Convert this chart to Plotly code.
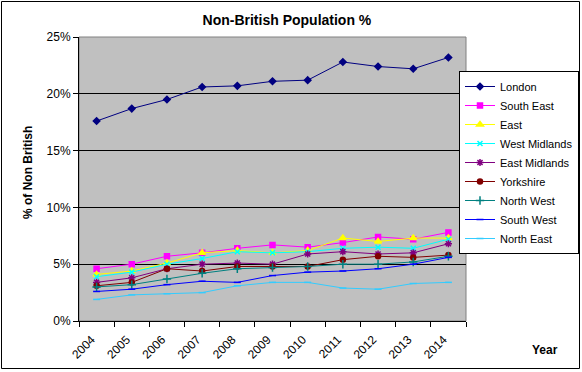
import plotly.graph_objects as go

years = ["2004", "2005", "2006", "2007", "2008", "2009", "2010", "2011", "2012", "2013", "2014"]

london = [17.6, 18.7, 19.5, 20.6, 20.7, 21.1, 21.2, 22.8, 22.4, 22.2, 23.2]
south_east = [4.6, 5.0, 5.7, 6.0, 6.4, 6.7, 6.5, 6.9, 7.4, 7.2, 7.8]
east = [4.1, 4.4, 5.1, 6.0, 6.2, 6.0, 6.2, 7.3, 7.0, 7.3, 7.3]
west_midlands = [3.9, 4.3, 5.0, 5.5, 6.1, 6.0, 6.1, 6.4, 6.5, 6.4, 7.2]
east_midlands = [3.4, 3.8, 4.6, 5.0, 5.1, 5.0, 5.9, 6.1, 5.9, 6.0, 6.8]
yorkshire = [3.1, 3.4, 4.6, 4.4, 4.8, 4.8, 4.8, 5.4, 5.7, 5.6, 5.8]
north_west = [3.0, 3.2, 3.7, 4.2, 4.6, 4.7, 4.8, 5.0, 5.0, 5.2, 5.7]
south_west = [2.6, 2.8, 3.2, 3.5, 3.4, 4.0, 4.3, 4.4, 4.6, 5.0, 5.6]
north_east = [1.9, 2.3, 2.4, 2.5, 3.1, 3.4, 3.4, 2.9, 2.8, 3.3, 3.4]

series = [
    ("London", london, "#000080", "diamond", 5),
    ("South East", south_east, "#FF00FF", "square", 5),
    ("East", east, "#FFFF00", "triangle-up", 6),
    ("West Midlands", west_midlands, "#00FFFF", "x-thin-open", 5),
    ("East Midlands", east_midlands, "#800080", "asterisk-open", 6),
    ("Yorkshire", yorkshire, "#800000", "circle", 5),
    ("North West", north_west, "#008080", "cross-thin-open", 6),
    ("South West", south_west, "#0000FF", "line-ew-open", 5),
    ("North East", north_east, "#33CCFF", "line-ew-open", 5),
]

FONT = "Liberation Sans, Arial, sans-serif"

fig = go.Figure()
for name, vals, color, sym, size in series:
    fig.add_trace(go.Scatter(
        x=years, y=vals, name=name, mode="lines+markers",
        line=dict(color=color, width=1),
        marker=dict(symbol=sym, size=size, color=color,
                    line=dict(color=color, width=1.5)),
    ))

L, R, T, B = 79, 116, 37, 51
W, H = 582, 372
pw, ph = W - L - R, H - T - B

def px_x(x):
    return (x - L) / pw

def px_y(y):
    return (H - B - y) / ph

fig.update_layout(
    width=W, height=H,
    margin=dict(l=L, r=R, t=T, b=B, pad=0, autoexpand=False),
    paper_bgcolor="white",
    plot_bgcolor="#C0C0C0",
    font=dict(family=FONT, size=12, color="black"),
    title=dict(text="<b>Non-British Population %</b>", x=0.493, xanchor="center",
               y=1 - 20 / H, yanchor="middle", font=dict(size=14, family=FONT)),
    showlegend=True,
    legend=dict(x=px_x(459), xanchor="left", y=px_y(71), yanchor="top",
                bgcolor="white", bordercolor="black", borderwidth=1,
                font=dict(size=11, family=FONT), tracegroupgap=0,
                itemwidth=30),
    xaxis=dict(type="category", tickson="boundaries", ticks="outside", ticklen=5,
               tickcolor="black", tickangle=-45, showgrid=False,
               showline=True, linecolor="black", linewidth=1, automargin=False,
               ticklabelstandoff=6, ticklabelshift=-5,
               range=[-0.5, 10.5], tickfont=dict(size=12, family=FONT)),
    yaxis=dict(range=[0, 25], dtick=5, ticksuffix="%", ticks="outside", ticklen=5,
               tickcolor="black", showgrid=True, gridcolor="black", gridwidth=1,
               showline=True, linecolor="black", linewidth=1, zeroline=False,
               automargin=False, tickfont=dict(size=12, family=FONT)),
    shapes=[
        dict(type="rect", xref="paper", yref="paper", x0=0, x1=1, y0=0, y1=1,
             line=dict(color="#808080", width=1), layer="below"),
        dict(type="rect", xref="paper", yref="paper",
             x0=px_x(1.5), x1=px_x(579.5), y0=px_y(368.5), y1=px_y(1.5),
             line=dict(color="black", width=1)),
    ],
    annotations=[
        dict(text="<b>% of Non British</b>", xref="paper", yref="paper",
             x=px_x(28), y=px_y(172), textangle=-90, showarrow=False,
             font=dict(size=12, family=FONT), xanchor="center", yanchor="middle"),
        dict(text="<b>Year</b>", xref="paper", yref="paper",
             x=px_x(545), y=px_y(350), showarrow=False,
             font=dict(size=12, family=FONT), xanchor="center", yanchor="middle"),
    ],
)

fig.write_html("out.html", config={"displayModeBar": False},
               post_script="document.body.style.margin='0';document.body.style.overflow='hidden';")
